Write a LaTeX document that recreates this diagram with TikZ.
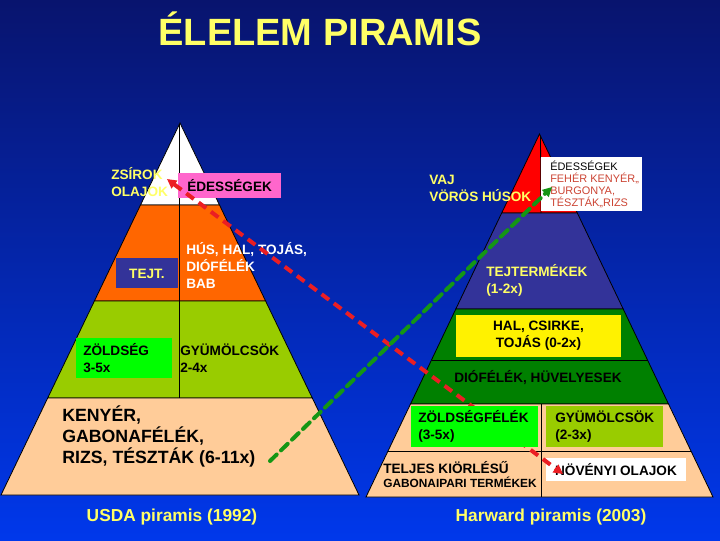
\documentclass[tikz,border=0pt]{standalone}
\usepackage{fontspec}
\setmainfont{Liberation Sans}
\usepackage{tikz}
\usetikzlibrary{arrows.meta}
\usepackage{xcolor}
\definecolor{bgtop}{RGB}{8,20,110}
\definecolor{bgbot}{RGB}{0,56,235}
\definecolor{txtyellow}{RGB}{255,255,102}
\definecolor{usdaorange}{RGB}{255,102,0}
\definecolor{usdalime}{RGB}{153,204,0}
\definecolor{peach}{RGB}{255,204,153}
\definecolor{slate}{RGB}{51,51,153}
\definecolor{darkgr}{RGB}{0,128,0}
\definecolor{brightgr}{RGB}{0,255,0}
\definecolor{pinkbox}{RGB}{255,102,204}
\definecolor{arrowred}{RGB}{235,30,35}
\definecolor{arrowgreen}{RGB}{20,150,20}
\definecolor{brick}{RGB}{204,68,51}

\begin{document}
\begin{tikzpicture}[x=0.75pt,y=0.75pt,yscale=-1,xscale=1,
  lbl/.style={inner sep=0pt, align=left, anchor=west, font=\bfseries\fontsize{10.2}{12.75}\selectfont},
  captxt/.style={inner sep=0pt, text=txtyellow, font=\bfseries\fontsize{13}{15}\selectfont},
  layer/.style={draw=black, line width=0.6pt},
  reddash/.style={draw=arrowred, line width=3pt, dash pattern=on 7pt off 4.5pt},
  greendash/.style={draw=arrowgreen, line width=3pt, dash pattern=on 7pt off 4.5pt, line cap=round}]
%set diagram size 720 x 540
\useasboundingbox (0,0) rectangle (720,540);
\shade[top color=bgtop, bottom color=bgbot] (0,0) rectangle (720,540);

%Shape: USDA pyramid [layers from top]
\draw[layer, fill=white] (180,123) -- (219.5,205) -- (140.5,205) -- cycle ;
\draw[layer, fill=usdaorange] (140.5,205) -- (219.5,205) -- (265.6,301) -- (94.4,301) -- cycle ;
\draw[layer, fill=usdalime] (94.4,301) -- (265.6,301) -- (312.3,398) -- (47.7,398) -- cycle ;
\draw[layer, fill=peach] (47.7,398) -- (312.3,398) -- (359,495) -- (1,495) -- cycle ;
%Straight Lines
\draw[layer] (179,124) -- (179,398) ;

%Shape: Harward pyramid [layers from top]
\draw[layer, fill=red] (539.5,134) -- (577.3,213) -- (501.7,213) -- cycle ;
\draw[layer, fill=slate] (501.7,213) -- (577.3,213) -- (623.2,309) -- (455.8,309) -- cycle ;
\draw[layer, fill=darkgr] (455.8,309) -- (623.2,309) -- (668.5,404) -- (410.5,404) -- cycle ;
\draw[layer, fill=peach] (410.5,404) -- (668.5,404) -- (713,497) -- (366,497) -- cycle ;
%Straight Lines
\draw[layer] (431.5,360) -- (647.5,360) ;
\draw[layer] (388,451) -- (691,451) ;
\draw[layer] (540.5,136) -- (541,213) ;
\draw[layer] (541,404) -- (541,497) ;

% Title
\draw (320,45) node[captxt, anchor=base, font=\bfseries\fontsize{28.5}{30}\selectfont] (title) {ÉLELEM PIRAMIS};

%Shape: Rectangle
\draw[fill=pinkbox, draw=none] (178,173) rectangle (281,198) ;
\draw[fill=slate, draw=none] (116,258) rectangle (178,288) ;
\draw[fill=brightgr, draw=none] (76,338) rectangle (172,378) ;
% Text Node
\draw (187,185.5) node[lbl] (edesL) {ÉDESSÉGEK};
\draw (111,182.5) node[lbl, text=txtyellow] (zsirok) {ZSÍROK\\OLAJOK};
\draw (147,273.5) node[lbl, anchor=center, text=txtyellow] (tejt) {TEJT.};
\draw (186,265) node[lbl, text=white] (hus) {HÚS, HAL, TOJÁS,\\DIÓFÉLÉK\\BAB};
\draw (83,358.5) node[lbl] (zoldseg) {ZÖLDSÉG\\3-5x};
\draw (180,358.5) node[lbl] (gyumL) {GYÜMÖLCSÖK\\2-4x};
\draw (62,436.5) node[lbl, font=\bfseries\fontsize{13.3}{16}\selectfont] (kenyer) {KENYÉR,\\GABONAFÉLÉK,\\RIZS, TÉSZTÁK (6-11x)};
\draw (172,517) node[captxt] (usda) {USDA piramis (1992)};

%Shape: Rectangle
\draw[fill=white, draw=none] (541,157) rectangle (642,211) ;
\draw[fill=yellow, draw=none] (456,315) rectangle (621,357) ;
\draw[fill=usdalime, draw=none] (546,406) rectangle (663,447) ;
\draw[fill=white, draw=none] (546,458) rectangle (686,481) ;
% Text Node
\draw (429,188.5) node[lbl, text=txtyellow] (vaj) {VAJ\\VÖRÖS HÚSOK};
\draw (550,184) node[lbl, font=\fontsize{8.2}{9}\selectfont] (edesR) {ÉDESSÉGEK\\\textcolor{brick}{FEHÉR KENYÉR„}\\\textcolor{brick}{BURGONYA,}\\\textcolor{brick}{TÉSZTÁK„RIZS}};
\draw (486,280) node[lbl, text=txtyellow] (tejterm) {TEJTERMÉKEK\\(1-2x)};
\draw (538.5,336) node[lbl, align=center, anchor=center] (hal) {HAL, CSIRKE,\\TOJÁS (0-2x)};
\draw (538,378) node[lbl, anchor=center] (dio) {DIÓFÉLÉK, HÜVELYESEK};
\draw (555,426.5) node[lbl] (gyumR) {GYÜMÖLCSÖK\\(2-3x)};
\draw (383,475) node[lbl, font=\bfseries\fontsize{10.2}{10.5}\selectfont] (teljes) {TELJES KIÖRLÉSŰ\\{\fontsize{8.9}{10}\selectfont GABONAIPARI TERMÉKEK}};
\draw (616,469.5) node[lbl, anchor=center] (noveny) {NÖVÉNYI OLAJOK};
\draw (551,517) node[captxt] (harward) {Harward piramis (2003)};

%Straight Lines [red, goes under the green box]
\coordinate (redA) at (167,179);
\coordinate (redB) at (563,474);
\draw[reddash, {Triangle[length=7pt,width=7pt]}-{Triangle[length=7pt,width=7pt]}] (redA) -- (redB) ;

\draw[fill=brightgr, draw=none] (411,406) rectangle (538,447) ;
\draw (418,426.5) node[lbl] (zoldfel) {ZÖLDSÉGFÉLÉK\\(3-5x)};

%Straight Lines [green]
\coordinate (grA) at (270,461);
\coordinate (grB) at (552,187);
\draw[greendash, -{Triangle[length=7pt,width=7pt]}] (grA) -- (grB) ;

\end{tikzpicture}
\end{document}
